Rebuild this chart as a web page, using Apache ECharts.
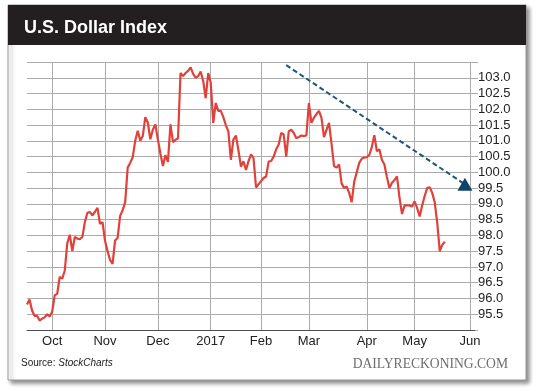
<!DOCTYPE html>
<html>
<head>
<meta charset="utf-8">
<script src="https://cdn.jsdelivr.net/npm/echarts@6/dist/echarts.min.js"></script>
<style>
  html, body { margin: 0; padding: 0; background: #ffffff; }
  #chart { width: 540px; height: 391px; }
</style>
</head>
<body>
<div id="chart"></div>
<script>
// ---- Data ----
const startDate = '2016-09-19';
const endDate = '2017-06-05';
const holidays = ['2016-11-24', '2016-12-26', '2017-01-02', '2017-01-16', '2017-02-20', '2017-04-14', '2017-05-29'];
const monthNames = ['Jan', 'Feb', 'Mar', 'Apr', 'May', 'Jun', 'Jul', 'Aug', 'Sep', 'Oct', 'Nov', 'Dec'];

// U.S. Dollar Index daily closes, starting 2016-09-19 (one value per trading day)
const usdIndex = [
  95.81, 95.97, 95.62, 95.45, 95.45, 95.30, 95.36, 95.40, 95.50, 95.43,
  95.58, 96.10, 96.15, 96.68, 96.63, 96.88, 97.75, 98.02, 97.50, 97.95,
  97.90, 97.88, 97.95, 98.43, 98.72, 98.74, 98.64, 98.75, 98.87, 98.37,
  98.42, 97.83, 97.50, 97.22, 97.10, 97.84, 97.92, 98.62, 98.80, 99.05,
  100.15, 100.30, 100.48, 101.00, 101.32, 101.00, 101.15, 101.75, 101.58, 101.05,
  101.35, 101.52, 101.04, 100.60, 100.20, 100.55, 100.33, 101.52, 100.96, 101.03,
  101.08, 103.15, 103.05, 103.15, 103.22, 103.33, 103.12, 103.00, 103.05, 103.20,
  102.90, 102.35, 103.15, 102.85, 101.57, 102.20, 101.95, 101.95, 101.75, 101.50,
  101.30, 100.40, 101.04, 101.17, 100.70, 100.18, 100.35, 100.08, 100.35, 100.57,
  100.45, 99.52, 99.62, 99.72, 99.82, 99.87, 100.34, 100.36, 100.50, 100.73,
  100.88, 101.25, 101.20, 100.50, 101.30, 101.35, 101.25, 101.08, 101.12, 101.17,
  101.15, 101.17, 102.20, 101.57, 101.73, 101.85, 101.95, 101.73, 101.12, 101.35,
  101.57, 100.90, 100.20, 100.15, 100.25, 99.65, 99.50, 99.55, 99.35, 99.05,
  99.70, 100.00, 100.30, 100.43, 100.47, 100.48, 100.55, 100.80, 101.18, 100.67,
  100.73, 100.40, 100.25, 99.85, 99.50, 99.67, 99.75, 99.87, 99.20, 98.68,
  98.95, 98.95, 98.95, 98.92, 99.08, 98.87, 98.60, 98.95, 99.25, 99.50,
  99.53, 99.35, 99.05, 98.40, 97.50, 97.70, 97.80
];

// Hand-drawn downtrend arrow (date, value)
const trendLine = [['2017-02-15', 103.40], ['2017-05-30', 99.62]];

// Y axis ticks
const yMin = 95.0;
const yMax = 103.5;
const yStep = 0.5;

// ---- Build trading-day categories ----
function pad(n) { return (n < 10 ? '0' : '') + n; }
function fmt(d) { return d.getUTCFullYear() + '-' + pad(d.getUTCMonth() + 1) + '-' + pad(d.getUTCDate()); }
function tradingDays(start, end, hol) {
  const out = [];
  const s = start.split('-').map(Number), e = end.split('-').map(Number);
  let t = Date.UTC(s[0], s[1] - 1, s[2]);
  const tEnd = Date.UTC(e[0], e[1] - 1, e[2]);
  while (t <= tEnd) {
    const d = new Date(t);
    const wd = d.getUTCDay();
    const str = fmt(d);
    if (wd !== 0 && wd !== 6 && hol.indexOf(str) < 0) out.push(str);
    t += 86400000;
  }
  return out;
}
const dates = tradingDays(startDate, endDate, holidays);
function isMonthStart(i) {
  return i > 0 && dates[i].slice(5, 7) !== dates[i - 1].slice(5, 7);
}
function monthLabel(v) {
  const m = parseInt(v.slice(5, 7), 10);
  return m === 1 ? v.slice(0, 4) : monthNames[m - 1];
}

const FONT = '"Liberation Sans", Arial, Helvetica, sans-serif';
const chart = echarts.init(document.getElementById('chart'), null, { renderer: 'canvas' });

chart.setOption({
  animation: false,
  grid: { left: 27, right: 65, top: 62, bottom: 61, containLabel: false, outerBoundsMode: 'none' },
  xAxis: {
    type: 'category',
    data: dates,
    boundaryGap: false,
    axisLine: { show: true, lineStyle: { color: '#4d4d4d', width: 1 } },
    axisTick: { show: false },
    axisLabel: {
      interval: function (i) { return isMonthStart(i); },
      formatter: function (v) { return monthLabel(v); },
      color: '#222', fontSize: 13, fontFamily: FONT, margin: 5
    },
    splitLine: {
      show: true,
      interval: function (i) { return isMonthStart(i); },
      lineStyle: { color: '#ababab', width: 1 }
    }
  },
  yAxis: {
    type: 'value',
    position: 'right',
    min: yMin, max: yMax, interval: yStep,
    axisLine: { show: false },
    axisTick: { show: true, length: 3, lineStyle: { color: '#ababab' } },
    axisLabel: {
      margin: 3,
      color: '#222', fontSize: 13, fontFamily: FONT,
      formatter: function (v) { return (v < yMin + 0.25 || v > yMax - 0.25) ? '' : v.toFixed(1); }
    },
    splitLine: { show: true, lineStyle: { color: '#ababab', width: 1 } }
  },
  series: [
    {
      type: 'line',
      name: 'USD',
      data: usdIndex,
      showSymbol: false,
      symbol: 'none',
      lineStyle: { color: '#e0413a', width: 2.2 },
      z: 3
    },
    {
      type: 'line',
      name: 'trend',
      data: [
        { value: trendLine[0], symbol: 'none' },
        { value: trendLine[1], symbol: 'triangle', symbolSize: [15, 13] }
      ],
      showSymbol: true,
      showAllSymbol: true,
      lineStyle: { color: '#1f5577', width: 2, type: [5, 3] },
      itemStyle: { color: '#0f4468' },
      z: 4
    }
  ],
  graphic: [
    {
      type: 'rect', z: -10,
      shape: { x: 8, y: 5, width: 518, height: 375 },
      style: {
        fill: '#ffffff', stroke: '#9a9a9a', lineWidth: 1,
        shadowBlur: 4, shadowOffsetX: 3, shadowOffsetY: 3, shadowColor: 'rgba(0,0,0,0.45)'
      }
    },
    {
      type: 'rect', z: -9,
      shape: { x: 8, y: 5, width: 518, height: 40 },
      style: { fill: '#231f20' }
    },
    {
      type: 'text', x: 24, y: 28.5,
      style: {
        text: 'U.S. Dollar Index', fill: '#ffffff',
        font: 'bold 18px ' + FONT, verticalAlign: 'middle'
      }
    },
    {
      type: 'text', x: 21, y: 363.5,
      style: {
        text: '{a|Source: }{b|StockCharts}',
        verticalAlign: 'middle',
        rich: {
          a: { fontSize: 10, fontFamily: FONT, fill: '#222' },
          b: { fontSize: 10, fontFamily: FONT, fontStyle: 'italic', fill: '#222' }
        }
      }
    },
    {
      type: 'text', x: 508, y: 364,
      style: {
        text: 'DAILYRECKONING.COM', align: 'right', verticalAlign: 'middle',
        font: '13.6px "Liberation Serif", "Times New Roman", serif', fill: '#6e6e6e'
      }
    }
  ]
});
</script>
</body>
</html>
